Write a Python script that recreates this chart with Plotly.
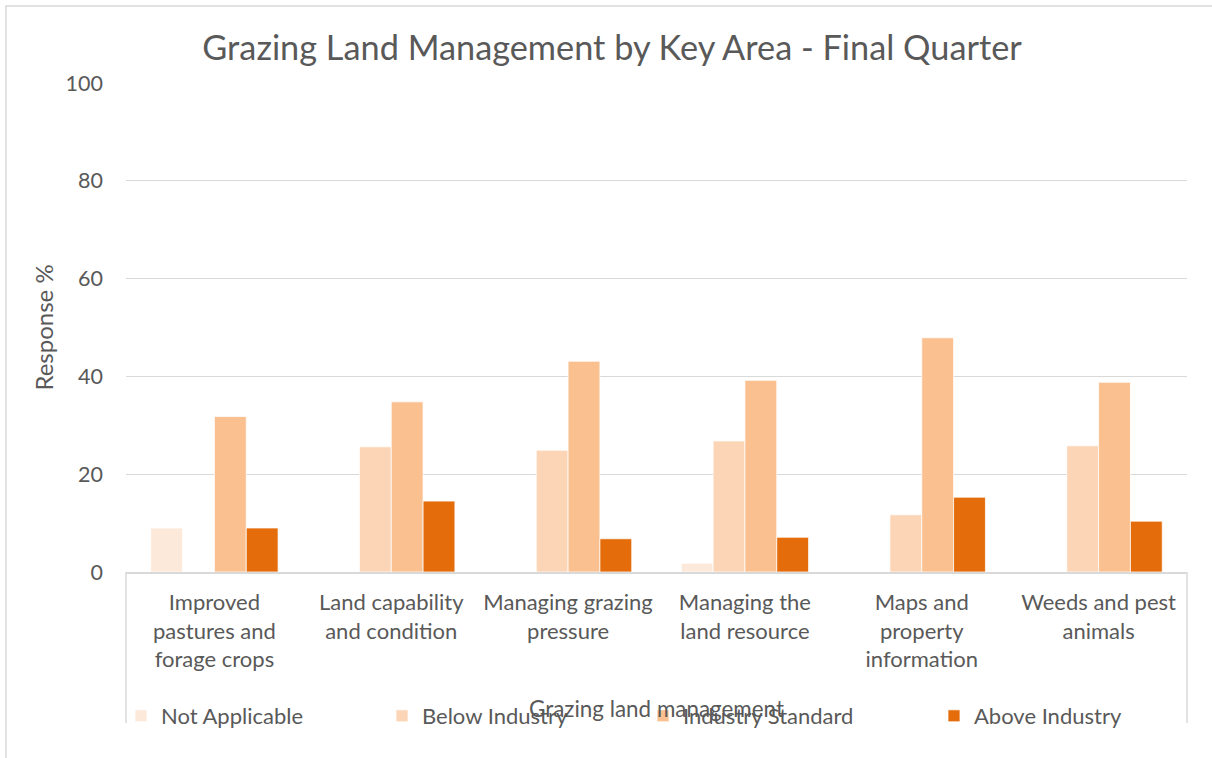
import plotly.graph_objects as go

categories = [
    "Improved<br>pastures and<br>forage crops",
    "Land capability<br>and condition",
    "Managing grazing<br>pressure",
    "Managing the<br>land resource",
    "Maps and<br>property<br>information",
    "Weeds and pest<br>animals",
]
not_applicable = [9.0, 0, 0, 1.8, 0, 0]
below_industry = [0, 25.6, 24.9, 26.8, 11.7, 25.8]
industry_standard = [31.8, 34.8, 43.1, 39.2, 47.9, 38.8]
above_industry = [9.0, 14.5, 6.8, 7.1, 15.3, 10.4]
series_names = ["Not Applicable", "Below Industry", "Industry Standard", "Above Industry"]
series_values = [not_applicable, below_industry, industry_standard, above_industry]
colors = ["#FDE9D9", "#FBD5B5", "#FAC090", "#E46C0A"]
y_ticks = [0, 20, 40, 60, 80, 100]

FONT = "Lato"
TXT = "#595959"

W, H = 1212, 758
L, R, T, B = 126, 1187, 83, 572
pw, ph = R - L, B - T

def px(xp):
    return (xp - L) / pw

def py(yp):
    return (B - yp) / ph

fig = go.Figure()
legend_x = [136, 397, 658, 949]
for i, (name, vals, col) in enumerate(zip(series_names, series_values, colors)):
    lg = "legend" if i == 0 else f"legend{i+1}"
    fig.add_trace(go.Bar(
        x=categories, y=vals, name=name,
        marker=dict(color=col, line=dict(color="white", width=0.75)),
        legend=lg,
    ))

layout_legends = {}
for i, lxp in enumerate(legend_x):
    key = "legend" if i == 0 else f"legend{i+1}"
    layout_legends[key] = dict(
        x=px(lxp - 15), y=py(716), xanchor="left", yanchor="middle",
        orientation="h", bgcolor="rgba(0,0,0,0)",
        font=dict(family=FONT, size=22, color=TXT),
        itemwidth=30,
    )

fig.update_layout(
    width=W, height=H,
    margin=dict(l=L, r=W - R, t=T, b=H - B),
    paper_bgcolor="white", plot_bgcolor="white",
    barmode="group", bargap=0.28, bargroupgap=0,
    title=dict(text="Grazing Land Management by Key Area - Final Quarter",
               x=0.505, xanchor="center", y=1 - 48 / H, yanchor="middle",
               font=dict(family=FONT, size=34.3, color=TXT)),
    font=dict(family=FONT, color=TXT),
    showlegend=True,
    **layout_legends,
)

fig.update_yaxes(
    range=[0, 100], tickvals=y_ticks, showgrid=True, gridcolor="#D9D9D9", gridwidth=1,
    zeroline=False, showline=False, ticks="", ticklabelstandoff=22,
    tickfont=dict(family=FONT, size=21.5, color=TXT),
    title=dict(text="Response %", font=dict(family=FONT, size=24, color=TXT), standoff=5),
)
fig.update_xaxes(
    showline=True, linecolor="#D9D9D9", linewidth=1.5, ticks="", ticklabelstandoff=10,
    tickfont=dict(family=FONT, size=22, color=TXT),
    title=dict(text="Grazing land management", font=dict(family=FONT, size=22.4, color=TXT), standoff=30),
)

# outer chart border
fig.add_shape(type="rect", xref="paper", yref="paper",
              x0=px(6), x1=px(1260), y0=py(800), y1=py(6),
              line=dict(color="#D9D9D9", width=1.5), layer="below")
# category axis box sides
for xx in (0, 1):
    fig.add_shape(type="line", xref="paper", yref="paper",
                  x0=xx, x1=xx, y0=0, y1=py(723),
                  line=dict(color="#D9D9D9", width=1.5))

fig.write_html("out.html", config={"displayModeBar": False},
               post_script="document.body.style.margin='0';document.body.style.overflow='hidden';")
